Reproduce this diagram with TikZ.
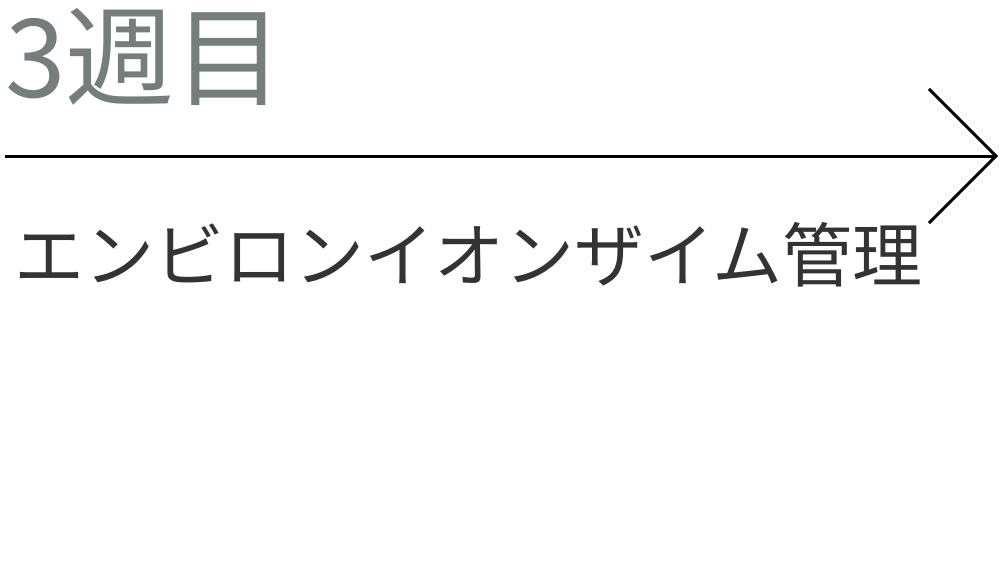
\documentclass[tikz,border=0pt]{standalone}
\usepackage{fontspec}
\usepackage{xcolor}
\usetikzlibrary{arrows.meta}
\setmainfont{Noto Sans CJK JP}
\definecolor{weekgray}{RGB}{117,125,125}
\definecolor{labeldark}{RGB}{51,51,51}
\tikzset{
  weeklabel/.style={anchor=west, inner sep=0pt, text=weekgray, font=\fontsize{109}{109}\selectfont},
  tasklabel/.style={anchor=west, inner sep=0pt, text=labeldark, font=\fontsize{70}{70}\selectfont},
  timeline/.style={line width=3pt, -{Straight Barb[length=67pt, width=134pt, line width=3pt]}}
}

\begin{document}
\begin{tikzpicture}[x=1pt, y=-1pt]
    \useasboundingbox (0,0) rectangle (1001,563);
    % week heading above the timeline
    \node[weeklabel] (week) at (5,57) {3週目};
    % timeline arrow
    \coordinate (start) at (5,156);
    \coordinate (finish) at (998,156);
    \draw[timeline] (start) -- (finish);
    % task below the timeline
    \node[tasklabel] (task) at (14,255) {エンビロンイオンザイム管理};
\end{tikzpicture}
\end{document}
